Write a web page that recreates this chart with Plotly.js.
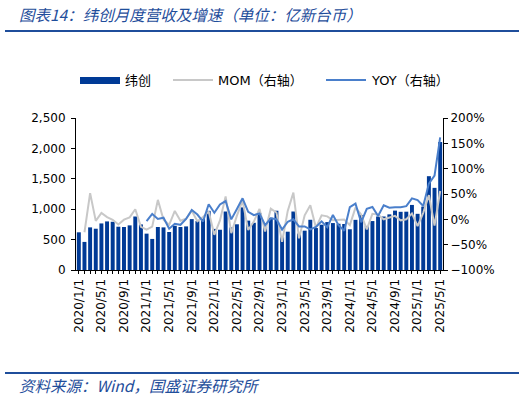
<!DOCTYPE html>
<html>
<head>
<meta charset="utf-8">
<script src="https://cdn.plot.ly/plotly-3.0.1.min.js"></script>
<style>
html,body{margin:0;padding:0;background:#fff;}
#chart{width:526px;height:398px;}
</style>
</head>
<body>
<div id="chart"></div>
<script>
// Monthly categories 2020/1 .. 2025/5
var months = [
"2020/1/1","2020/2/1","2020/3/1","2020/4/1","2020/5/1","2020/6/1","2020/7/1","2020/8/1","2020/9/1","2020/10/1","2020/11/1","2020/12/1",
"2021/1/1","2021/2/1","2021/3/1","2021/4/1","2021/5/1","2021/6/1","2021/7/1","2021/8/1","2021/9/1","2021/10/1","2021/11/1","2021/12/1",
"2022/1/1","2022/2/1","2022/3/1","2022/4/1","2022/5/1","2022/6/1","2022/7/1","2022/8/1","2022/9/1","2022/10/1","2022/11/1","2022/12/1",
"2023/1/1","2023/2/1","2023/3/1","2023/4/1","2023/5/1","2023/6/1","2023/7/1","2023/8/1","2023/9/1","2023/10/1","2023/11/1","2023/12/1",
"2024/1/1","2024/2/1","2024/3/1","2024/4/1","2024/5/1","2024/6/1","2024/7/1","2024/8/1","2024/9/1","2024/10/1","2024/11/1","2024/12/1",
"2025/1/1","2025/2/1","2025/3/1","2025/4/1","2025/5/1"];

// Revenue (亿新台币)
var revenue = [
620,462,701,679,766,799,793,712,707,734,880,750,
598,511,707,701,625,728,707,717,837,804,842,973,
676,662,962,700,752,1030,812,776,935,711,860,975,
540,630,962,600,647,826,690,745,788,772,761,757,
670,825,905,725,805,880,880,915,977,957,959,1070,
924,1043,1543,1351,2106];

// MOM (%), right axis
var mom = [
null,-25.5,51.7,-3.1,12.8,4.3,-0.8,-10.2,-0.7,3.8,19.9,-14.8,
-20.3,-14.5,38.4,-0.8,-10.8,16.5,-2.9,1.4,16.7,-3.9,4.7,15.6,
-30.5,-2.1,45.3,-27.2,7.4,37.0,-21.2,-4.4,20.5,-24.0,21.0,13.4,
-44.6,16.7,52.7,-37.6,7.8,27.7,-16.5,8.0,5.8,-2.0,-1.4,-0.5,
-11.5,23.1,9.7,-19.9,11.0,9.3,0.0,4.0,6.8,-2.0,0.2,11.6,
-13.6,12.9,47.9,-12.4,55.9];

// YOY (%), right axis
var yoy = [
null,null,null,null,null,null,null,null,null,null,null,null,
-3.5,10.6,0.9,3.2,-18.4,-8.9,-10.8,0.7,18.4,9.5,-4.3,29.7,
13.0,29.5,36.1,-0.1,20.3,41.5,14.9,8.2,11.7,-11.6,2.1,0.2,
-20.1,-4.8,0.0,-14.3,-14.0,-19.8,-15.0,-4.0,-15.7,8.6,-11.5,-22.4,
24.1,31.0,-5.9,20.8,24.4,6.5,27.5,22.8,24.0,24.0,26.0,41.3,
37.9,26.4,70.5,86.3,161.6];

// every category gets a small tick mark, only every 4th is labelled
var tickLabels = months.map(function(m, i){ return i % 4 === 0 ? m : ''; });

var BAR = '#003a96', YOYC = '#4a7fcb', MOMC = '#c8c8c8';

var traces = [
  {type:'bar', name:'纬创', x:months, y:revenue, marker:{color:BAR}, yaxis:'y', showlegend:false},
  {type:'scatter', mode:'lines', name:'MOM（右轴）', x:months, y:mom, yaxis:'y2',
   line:{color:MOMC, width:2}, showlegend:false},
  {type:'scatter', mode:'lines', name:'YOY（右轴）', x:months, y:yoy, yaxis:'y2',
   line:{color:YOYC, width:2}, showlegend:false}
];

// pixel -> paper helpers for the decorative header/legend
var L = 76, R = 443, T = 118, B = 270;
function px(x){ return (x - L) / (R - L); }
function py(y){ return (B - y) / (B - T); }

var legendFont = {family:'"DejaVu Sans","Noto Sans CJK SC",sans-serif', size:13, color:'#000'};

var layout = {
  width:526, height:398,
  margin:{l:L, r:526-R, t:T, b:398-B},
  paper_bgcolor:'#fff', plot_bgcolor:'#fff',
  font:{family:'"DejaVu Sans", Verdana, sans-serif', size:11, color:'#000'},
  bargap:0.3,
  showlegend:false,
  xaxis:{type:'category', tickmode:'array', tickvals:months, ticktext:tickLabels,
         tickangle:-90, ticks:'outside', ticklen:3, tickcolor:'#000',
         showline:true, linecolor:'#000', linewidth:1, showgrid:false,
         tickfont:{size:12}, automargin:false},
  yaxis:{range:[0,2500], dtick:500, tickformat:',d', ticks:'outside', ticklen:4,
         tickcolor:'#000', showline:true, linecolor:'#000', showgrid:false, zeroline:false,
         tickfont:{size:12}, automargin:false, ticklabelstandoff:3},
  yaxis2:{range:[-100,200], dtick:50, ticksuffix:'%', overlaying:'y', side:'right',
          ticks:'outside', ticklen:4, tickcolor:'#000', showline:true, linecolor:'#000',
          showgrid:false, zeroline:false, tickfont:{size:12}, automargin:false},
  shapes:[
    {type:'line', xref:'paper', yref:'paper', x0:px(5), x1:px(519), y0:py(31), y1:py(31),
     line:{color:'#1f4e9b', width:2}},
    {type:'line', xref:'paper', yref:'paper', x0:px(5), x1:px(519), y0:py(373), y1:py(373),
     line:{color:'#1f4e9b', width:2}},
    // legend swatches
    {type:'rect', xref:'paper', yref:'paper', x0:px(80), x1:px(120), y0:py(84), y1:py(77),
     fillcolor:BAR, line:{width:0}},
    {type:'line', xref:'paper', yref:'paper', x0:px(173), x1:px(213), y0:py(80), y1:py(80),
     line:{color:MOMC, width:2}},
    {type:'line', xref:'paper', yref:'paper', x0:px(326), x1:px(366), y0:py(80), y1:py(80),
     line:{color:YOYC, width:2}}
  ],
  annotations:[
    {text:'图表14：纬创月度营收及增速（单位：亿新台币）', xref:'paper', yref:'paper',
     x:px(17), y:py(14), xanchor:'left', yanchor:'middle', showarrow:false,
     font:{family:'"Noto Sans CJK SC", sans-serif', size:15.5, color:'#1f4e9b', style:'italic'}},
    {text:'资料来源：Wind，国盛证券研究所', xref:'paper', yref:'paper',
     x:px(17), y:py(385), xanchor:'left', yanchor:'middle', showarrow:false,
     font:{family:'"Noto Sans CJK SC", sans-serif', size:15.5, color:'#1f4e9b', style:'italic'}},
    {text:'纬创', xref:'paper', yref:'paper', x:px(123), y:py(80), xanchor:'left', yanchor:'middle',
     showarrow:false, font:legendFont},
    {text:'MOM（右轴）', xref:'paper', yref:'paper', x:px(216), y:py(80), xanchor:'left', yanchor:'middle',
     showarrow:false, font:legendFont},
    {text:'YOY（右轴）', xref:'paper', yref:'paper', x:px(369), y:py(80), xanchor:'left', yanchor:'middle',
     showarrow:false, font:legendFont}
  ]
};

Plotly.newPlot('chart', traces, layout, {displayModeBar:false, staticPlot:true});
</script>
</body>
</html>
